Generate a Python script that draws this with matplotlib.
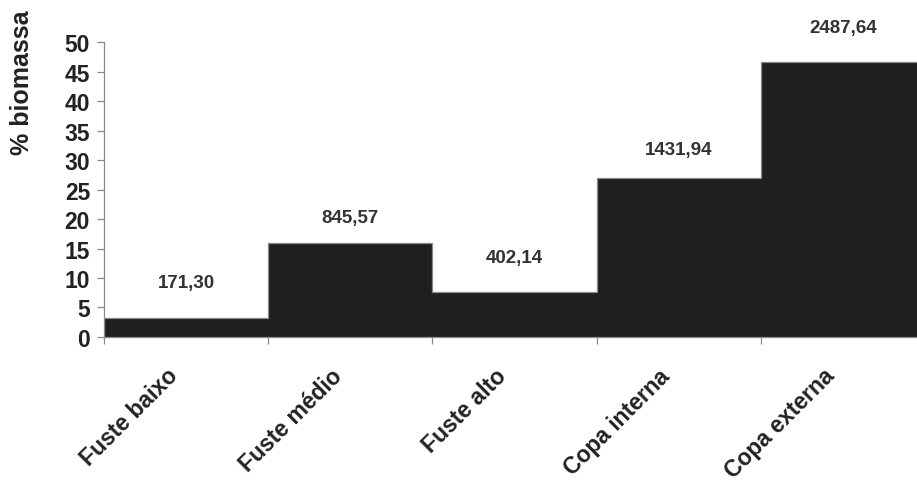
# -*- coding:utf-8 -*-

import matplotlib.pyplot as plt
import matplotlib.transforms as mtransforms

# biomass share per stem / crown section
categories = ['Fuste baixo', 'Fuste médio', 'Fuste alto', 'Copa interna', 'Copa externa']
pct_biomass = [3.3, 16.0, 7.6, 26.9, 46.6]
value_labels = ['171,30', '845,57', '402,14', '1431,94', '2487,64']
yticks = [0, 5, 10, 15, 20, 25, 30, 35, 40, 45, 50]

# where the value labels sit (data units)
label_y = [9.3, 20.3, 13.4, 31.7, 52.4]


def main():
    plt.rcParams['font.family'] = ['Liberation Sans', 'DejaVu Sans']
    plt.rcParams['font.weight'] = 'bold'

    fig = plt.figure(figsize=(9.17, 4.85), dpi=100, facecolor='w')
    ax = fig.add_axes([0.1134, 0.3031, 0.8953, 0.6082])

    x = list(range(len(categories)))
    edges = list(range(len(categories) + 1))
    ax.bar(x, pct_biomass, width=1.0, align='edge', color='#1f1f1f',
           linewidth=0, zorder=2)
    # thin grey outline along the top of the bars
    ax.stairs(pct_biomass, edges, color='#8a8a8a', linewidth=0.9, zorder=3)

    for i, (lab, yy) in enumerate(zip(value_labels, label_y)):
        ax.text(i + 0.5, yy, lab, ha='center', va='center', fontsize=13.5,
                fontweight='bold', color='#333333')

    ax.set_xlim(0, 5)
    ax.set_ylim(0, 50)
    ax.set_yticks(yticks)
    ax.set_yticklabels([str(v) for v in yticks], fontsize=16.5, fontweight='bold', color='#222222')
    ax.set_xticks(x)
    ax.set_xticklabels([])
    ax.tick_params(axis='both', direction='out', length=5, width=0.9, color='#8a8a8a')
    ax.tick_params(axis='y', pad=5)

    for s in ['top', 'right']:
        ax.spines[s].set_visible(False)
    for s in ['left', 'bottom']:
        ax.spines[s].set_color('#8a8a8a')
        ax.spines[s].set_linewidth(0.9)

    # rotated category names, centred under each bar
    offset = mtransforms.ScaledTranslation(-12 / 100, -35 / 100, fig.dpi_scale_trans)
    for i, name in enumerate(categories):
        ax.text(i + 0.5, 0, name, transform=ax.transData + offset,
                rotation=45, rotation_mode='anchor', ha='right', va='center',
                fontsize=16.5, fontweight='bold', color='#222222')

    fig.text(22 / 917, 1 - 83 / 485, '% biomassa', rotation=90, ha='center', va='center',
             fontsize=18, fontweight='bold', color='#222222')

    fig.savefig('out.png', dpi=100, facecolor='w')


if __name__ == '__main__':
    main()
